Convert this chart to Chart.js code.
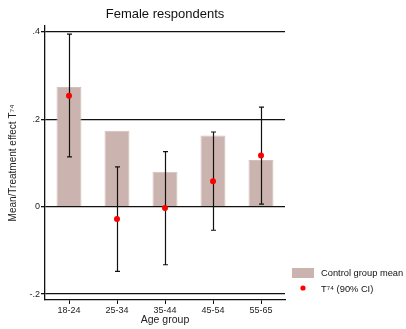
<!DOCTYPE html>
<html>
<head>
<meta charset="utf-8">
<script src="https://cdn.jsdelivr.net/npm/chart.js@4.4.1/dist/chart.umd.min.js"></script>
<style>
  html, body { margin: 0; padding: 0; background: #fff; }
  #wrap { width: 406px; height: 329px; position: relative; }
</style>
</head>
<body>
<div id="wrap"><canvas id="c" width="406" height="329"></canvas></div>
<script>
// Age groups and estimates
const ageGroups = ['18-24', '25-34', '35-44', '45-54', '55-65'];
const controlMean = [0.274, 0.174, 0.080, 0.163, 0.107];
const effect = [0.254, -0.028, -0.003, 0.058, 0.117];
const ciLow = [0.114, -0.148, -0.133, -0.054, 0.006];
const ciHigh = [0.395, 0.091, 0.126, 0.171, 0.228];
const yTickValues = [-0.2, 0, 0.2, 0.4];
const yTickLabels = ['-.2', '0', '.2', '.4'];

const FONT = '"Liberation Sans", Arial, sans-serif';
const BAR_COLOR = '#cbb4b0';

// Draws the 90% confidence intervals on top of the bars, below the points
const errorBars = {
  id: 'errorBars',
  beforeDatasetDraw(chart, args) {
    if (args.index !== 1) return;
    const { ctx, scales: { x, y } } = chart;
    ctx.save();
    ctx.strokeStyle = '#111';
    ctx.lineWidth = 1.2;
    for (let i = 0; i < ageGroups.length; i++) {
      const px = Math.round(x.getPixelForValue(i)) + 0.5;
      const yl = y.getPixelForValue(ciLow[i]);
      const yh = y.getPixelForValue(ciHigh[i]);
      ctx.beginPath();
      ctx.moveTo(px, yl); ctx.lineTo(px, yh);
      ctx.moveTo(px - 2.5, yl); ctx.lineTo(px + 2.5, yl);
      ctx.moveTo(px - 2.5, yh); ctx.lineTo(px + 2.5, yh);
      ctx.stroke();
    }
    ctx.restore();
  }
};

// Title and legend drawn outside the plot region
const decorations = {
  id: 'decorations',
  afterDraw(chart) {
    const { ctx, chartArea } = chart;
    ctx.save();
    ctx.fillStyle = '#111';
    ctx.font = '13px ' + FONT;
    ctx.textAlign = 'center';
    ctx.textBaseline = 'middle';
    ctx.fillText('Female respondents', (chartArea.left + chartArea.right) / 2, 14);

    ctx.textAlign = 'left';
    ctx.font = '9.3px ' + FONT;
    ctx.fillStyle = BAR_COLOR;
    ctx.fillRect(292, 268, 22, 10);
    ctx.fillStyle = '#111';
    ctx.fillText('Control group mean', 321, 273.5);

    ctx.fillStyle = '#ff0000';
    ctx.beginPath();
    ctx.arc(303, 288, 2.6, 0, Math.PI * 2);
    ctx.fill();
    ctx.fillStyle = '#111';
    ctx.fillText('T\u2077\u2074 (90% CI)', 321, 289);
    ctx.restore();
  }
};

new Chart(document.getElementById('c'), {
  data: {
    labels: ageGroups,
    datasets: [
      {
        type: 'bar',
        label: 'Control group mean',
        order: 2,
        data: controlMean,
        backgroundColor: BAR_COLOR,
        borderColor: '#d4bfbb',
        borderWidth: 1,
        categoryPercentage: 1,
        barPercentage: 0.52
      },
      {
        type: 'line',
        label: 'T\u2077\u2074 (90% CI)',
        order: 1,
        data: effect,
        showLine: false,
        pointRadius: 3,
        pointHoverRadius: 3,
        pointBackgroundColor: '#ff0000',
        pointBorderColor: '#ff0000',
        pointBorderWidth: 0
      }
    ]
  },
  options: {
    responsive: false,
    animation: false,
    devicePixelRatio: 1,
    layout: { padding: { top: 26, right: 121, left: 0, bottom: 0 } },
    plugins: {
      legend: { display: false },
      title: { display: false },
      tooltip: { enabled: false }
    },
    scales: {
      x: {
        type: 'category',
        offset: true,
        grid: { offset: false, drawOnChartArea: false, drawTicks: true, tickLength: 4, color: '#111', lineWidth: 1 },
        border: { display: true, color: '#111', width: 1.3 },
        ticks: { color: '#222', font: { family: FONT, size: 9 }, padding: 1, maxRotation: 0, autoSkip: false },
        title: { display: true, text: 'Age group', color: '#222', font: { family: FONT, size: 10.5 }, padding: { top: 0, bottom: 3 } },
        afterFit(scale) { scale.height = 29; }
      },
      y: {
        type: 'linear',
        min: -0.2137,
        max: 0.4137,
        afterBuildTicks(scale) { scale.ticks = yTickValues.map(v => ({ value: v })); },
        grid: { drawOnChartArea: true, drawTicks: true, tickLength: 4, color: '#111', lineWidth: 1.3 },
        border: { display: true, color: '#111', width: 1.3 },
        ticks: {
          color: '#222',
          font: { family: FONT, size: 9 },
          padding: 1,
          callback(value) {
            const i = yTickValues.findIndex(v => Math.abs(v - value) < 1e-9);
            return i >= 0 ? yTickLabels[i] : '';
          }
        },
        title: { display: true, text: 'Mean/Treatment effect T\u2077\u2074', color: '#222', font: { family: FONT, size: 10 }, padding: { top: 7, bottom: 0 } },
        afterFit(scale) { scale.width = 45; }
      }
    }
  },
  plugins: [errorBars, decorations]
});
</script>
</body>
</html>
